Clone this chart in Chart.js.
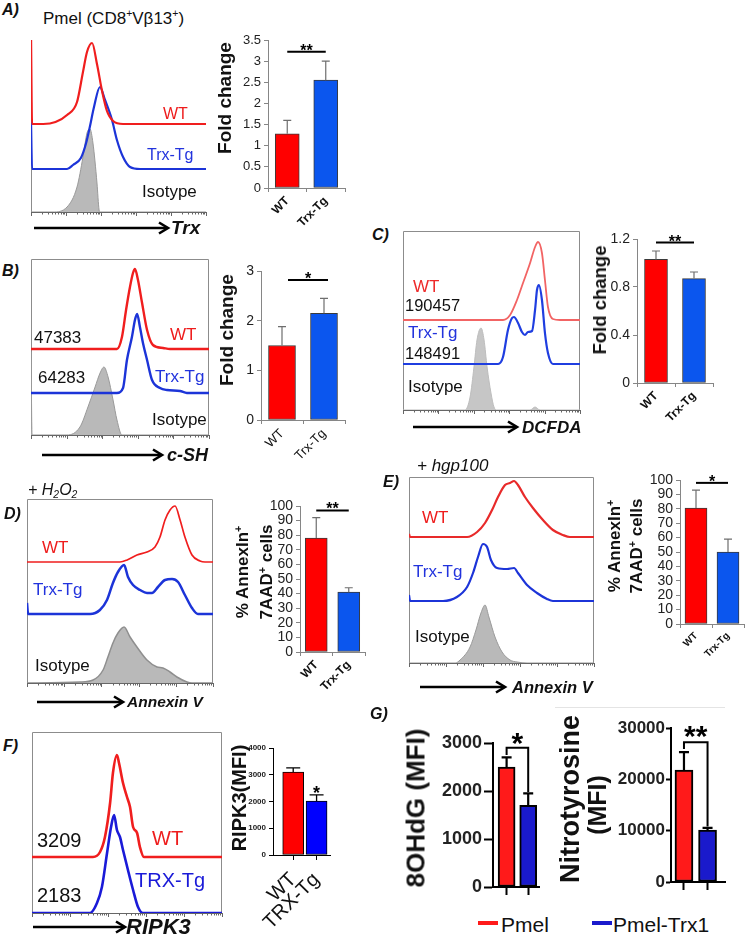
<!DOCTYPE html>
<html><head><meta charset="utf-8"><title>Trx figure</title>
<script src="https://cdn.jsdelivr.net/npm/chart.js@4.4.1/dist/chart.umd.min.js"></script>
<style>
html,body{margin:0;padding:0;background:#fff}
body{width:745px;height:937px;position:relative;overflow:hidden;font-family:"Liberation Sans",Arial,Helvetica,sans-serif;color:#111}
canvas{position:absolute}
.t{position:absolute;white-space:nowrap;line-height:1;transform:translateY(-50%)}
.r{position:absolute;white-space:nowrap;transform:translate(-50%,-50%) rotate(-90deg);font-weight:bold;text-align:center;color:#111}
sup{font-size:62%;vertical-align:0.6em;line-height:0}
sub{font-size:65%;vertical-align:-0.3em;line-height:0}
svg{position:absolute;left:0;top:0}
</style></head><body>
<svg id="arrows" width="745" height="937"></svg>
<script>
// ---------- DATA ----------
// histogram curves: [position along log axis (% of axis), event count (rel.)]
const hA_WT  = [[0,92],[0.6,0],[7,0],[14,2],[20.6,9],[26.3,22],[29.7,52],[32,72],[34.9,81],[37.7,60],[40.6,33],[43.4,13],[46.9,3],[52.6,0],[100,0]];
const hA_Tg  = [[0,49],[0.6,0],[20.6,0],[24,4],[28.5,11],[31.5,26],[33.6,42],[36,62],[39.4,82],[42.3,69],[46.3,49],[49.1,29],[52.6,12],[56.6,2],[62.3,0],[100,0]];
const hA_Iso = [[0,0],[12.6,0],[20.6,5],[26.3,25],[29.7,55],[32,79],[33.7,83],[35.4,69],[37.7,29],[38.9,2],[39.4,0],[100,0]];
const hB_WT  = [[0,0],[48.3,0],[51.1,12],[53.4,39],[55.6,62],[57.3,76],[58.4,80],[60.1,69],[62.4,46],[65.2,19],[68.5,4],[74.2,1],[78.1,0],[100,0]];
const hB_Tg  = [[0,0],[48.3,0],[51.7,5],[53.9,33],[56.7,56],[58.4,73],[59.6,79],[61.2,66],[62.9,50],[65.2,33],[68,13],[72.5,5],[76.4,3],[83.7,2],[87.6,0],[100,0]];
const hB_Iso = [[0,83],[0.6,0],[20.2,0],[27.5,8],[32,28],[36,48],[38.8,62],[41,68],[43.3,58],[46.1,35],[48.3,15],[51.1,0],[100,0]];
const hC_WT  = [[0,0],[56.5,0],[60.5,5],[64.4,20],[67.8,37],[71.8,57],[74.6,73],[76.3,78],[78.5,67],[80.2,40],[81.9,13],[84.7,1],[88.7,0],[100,0]];
const hC_Tg  = [[0,0],[53.7,0],[56.5,7],[59.3,34],[61.6,46],[62.7,47],[65,41],[67.2,32],[68.9,29],[70.6,32],[72.9,33],[74.6,54],[75.7,74],[76.8,79],[78.5,64],[80.2,31],[81.9,11],[84.7,0],[100,0]];
const hC_Iso = [[0,0],[35,0],[37.9,13],[40.1,43],[41.8,70],[44.1,82],[45.8,70],[47.5,43],[49.7,17],[51.4,3],[53.1,0],[71.8,0],[74.6,3],[77.4,0],[100,0]];
const hD_WT  = [[0,0],[50,0],[53.8,2],[59.1,7],[64.5,10],[68.8,15],[71.5,25],[74.2,42],[76.9,52],[79.6,56],[82.3,42],[84.9,25],[88.7,7],[93,1],[95.7,0],[100,0]];
const hD_Tg  = [[0,11],[0.6,0],[33.9,0],[39.2,4],[43,14],[46.2,31],[48.9,42],[52.2,49],[54.3,37],[57,29],[60.8,24],[64.5,21],[67.2,21],[70.4,27],[74.2,34],[78,35],[81.2,32],[84.9,19],[88.7,6],[91.9,0],[100,0]];
const hD_Iso = [[0,0],[28.5,1],[35.5,3],[40.9,13],[43.5,26],[46.2,40],[48.9,50],[52.2,56],[55.4,46],[59.1,36],[64.5,23],[69.9,16],[73.1,15],[76.9,11],[80.6,6],[86,1],[88.7,0],[100,0]];
const hE_WT  = [[0,3],[0.6,0],[31.4,0],[36.8,5],[41.1,14],[44.9,27],[48.1,40],[51.9,52],[54.6,54],[56.8,56],[58.9,52],[62.7,40],[67,29],[72.4,17],[77.8,7],[83.2,2],[87,0],[100,0]];
const hE_Tg  = [[0,6],[0.6,0],[18.4,0],[25.9,4],[31.4,14],[34.6,28],[37.3,44],[40,57],[42.2,54],[44.3,41],[47.6,33],[53,32],[56.8,33],[58.9,28],[63.8,16],[69.2,8],[74.6,2],[77.8,0],[100,0]];
const hE_Iso = [[0,0],[25,0],[27.6,3],[33,16],[36.2,33],[38.9,50],[41.1,58],[43.2,46],[46.5,26],[50.3,11],[54.6,3],[58.4,1],[63.8,0],[100,0]];
const hF_WT  = [[0,0],[32.1,0],[35.8,5],[38.4,20],[41.1,54],[42.6,84],[44.7,102],[45.8,94],[47.9,74],[50,60],[51.6,50],[53.2,30],[55.3,24],[56.8,10],[58.9,0],[100,0]];
const hF_Tg  = [[0,0],[30.5,0],[34.2,10],[36.8,26],[39.5,60],[41.6,86],[43.2,98],[44.7,83],[46.3,76],[47.9,63],[50.5,43],[53.2,23],[55.8,6],[58.4,0],[100,0]];

// bar charts
const catsTrx  = ['WT','Trx-Tg'];
const catsTRX  = ['WT','TRX-Tg'];
const catsPmel = ['Pmel','Pmel-Trx1'];
const barA = [1.28, 2.55],   errA = [0.32, 0.45];
const barB = [1.5, 2.15],    errB = [0.38, 0.30];
const barC = [1.03, 0.87],   errC = [0.07, 0.055];
const barD = [78, 41],       errD = [14, 3];
const barE = [80.5, 50],     errE = [12.5, 9];
const barF = [3100, 2020],   errF = [160, 230];
const barG1 = [2500, 1700],  errG1 = [200, 250];
const barG2 = [21800, 10100],errG2 = [3500, 450];
const ticksA = [0,0.5,1,1.5,2,2.5,3,3.5];
const ticksB = [0,1,2,3];
const ticksC = [0,0.4,0.8,1.2];
const ticksDE = [0,10,20,30,40,50,60,70,80,90,100];
const ticksF = [0,1000,2000,3000,4000];
const ticksG1 = [0,1000,2000,3000];
const ticksG2 = [0,10000,20000,30000];
const mfiWT = ['3209','2183'];
const mfiDCF = ['190457','148491'];
const mfiSH = ['47383','64283'];

// ---------- HELPERS ----------
Chart.defaults.font.family = '"Liberation Sans", Arial, Helvetica, sans-serif';
Chart.defaults.color = '#222';
const RED='#f01e1e', BLUE='#1c34d8', GFILL='#b9b9b9', GLINE='#999999';

function mkCanvas(x,y,w,h){
  const c=document.createElement('canvas');
  c.width=w;c.height=h;
  c.style.left=x+'px';c.style.top=y+'px';c.style.width=w+'px';c.style.height=h+'px';
  document.body.appendChild(c);return c;
}
function T(html,x,cy,style){
  const d=document.createElement('div');d.className='t';d.innerHTML=html;
  d.style.cssText+=`left:${x}px;top:${cy}px;`+style;document.body.appendChild(d);
}
function R(html,cx,cy,style){
  const d=document.createElement('div');d.className='r';d.innerHTML=html;
  d.style.cssText+=`left:${cx}px;top:${cy}px;`+style;document.body.appendChild(d);
}

function histogram(o){
  const pad=8, W=o.R-o.L, H=o.B-o.T;
  const cv=mkCanvas(o.L-pad,o.T-pad,W+2*pad,H+2*pad);
  const frame={id:'frame',beforeDatasetsDraw(ch){
    const {left,top,right,bottom}=ch.chartArea, ctx=ch.ctx, xs=ch.scales.x;
    ctx.save();ctx.strokeStyle='#8c8c8c';ctx.lineWidth=1;ctx.beginPath();
    if(o.box){ctx.moveTo(left+0.5,bottom);ctx.lineTo(left+0.5,top+0.5);ctx.lineTo(right-0.5,top+0.5);ctx.lineTo(right-0.5,bottom);}
    else {ctx.moveTo(left+0.5,bottom);ctx.lineTo(left+0.5,top);}
    ctx.stroke();
    ctx.strokeStyle='#666';ctx.beginPath();ctx.moveTo(left,bottom+0.5);ctx.lineTo(right,bottom+0.5);
    const nd=5;
    for(let d=0;d<=nd;d++){for(let k=1;k<=9;k++){
      if(d===nd&&k>1)break;
      const px=Math.round(xs.getPixelForValue((d+Math.log10(k))/nd*100))+0.5;
      ctx.moveTo(px,bottom);ctx.lineTo(px,bottom+(k===1?4:2.5));
    }}
    ctx.stroke();ctx.restore();
  }};
  new Chart(cv,{type:'line',
    data:{datasets:o.tracks.map(t=>({
      data:t.pts.map(p=>({x:p[0],y:t.base+p[1]})),
      borderColor:t.color,borderWidth:t.lw,
      backgroundColor:t.fill||'transparent',fill:t.fill?{value:t.base}:false,
      pointRadius:0,cubicInterpolationMode:'monotone',borderJoinStyle:'round'}))},
    options:{responsive:false,animation:false,devicePixelRatio:1,events:[],
      layout:{padding:pad},plugins:{legend:{display:false},tooltip:{enabled:false}},
      scales:{x:{type:'linear',min:0,max:100,display:false},y:{min:0,max:H,display:false}}},
    plugins:[frame]});
}

function barChart(o){
  const pad=Object.assign({l:2,t:14,r:6,b:2},o.pad||{});
  const cx=o.L-o.yW-pad.l, cy=o.T-pad.t, cw=o.R+pad.r-cx, chh=o.B+o.xH+pad.b-cy;
  const cv=mkCanvas(cx,cy,cw,chh);
  const lin=o.xmin!==undefined;
  const deco={id:'deco',afterDatasetsDraw(ch){
    const ctx=ch.ctx, ys=ch.scales.y, meta=ch.getDatasetMeta(0);
    ctx.save();ctx.strokeStyle=o.errColor;ctx.lineWidth=o.errW;
    o.errs.forEach((e,i)=>{
      const x=meta.data[i].x, y0=ys.getPixelForValue(o.vals[i]), y1=ys.getPixelForValue(o.vals[i]+e);
      ctx.beginPath();ctx.moveTo(x,y0);ctx.lineTo(x,y1);ctx.moveTo(x-o.cap/2,y1);ctx.lineTo(x+o.cap/2,y1);ctx.stroke();
    });
    const s=o.sig;
    if(s){
      ctx.strokeStyle='#000';ctx.fillStyle='#000';ctx.lineWidth=s.lw||2;ctx.font=s.font;ctx.textAlign='center';ctx.textBaseline='alphabetic';
      const x0=meta.data[0].x+(s.dx0||0), x1=meta.data[1].x+(s.dx1||0);
      if(s.type==='line'){
        const y=ys.getPixelForValue(s.y);
        ctx.beginPath();ctx.moveTo(x0,y);ctx.lineTo(x1,y);ctx.stroke();
        ctx.fillText(s.text,(x0+x1)/2,y+s.tOff);
      } else if(s.type==='bracket'){
        const y=ys.getPixelForValue(s.y);
        ctx.beginPath();ctx.moveTo(x0,ys.getPixelForValue(s.l));ctx.lineTo(x0,y);ctx.lineTo(x1,y);ctx.lineTo(x1,ys.getPixelForValue(s.r));ctx.stroke();
        ctx.fillText(s.text,(x0+x1)/2,y+s.tOff);
      } else if(s.type==='star'){
        const i=s.i, x=meta.data[i].x, y=ys.getPixelForValue(o.vals[i]+o.errs[i]);
        ctx.fillText(s.text,x,y+s.tOff);
      }
    }
    ctx.restore();
  }};
  const xScale = lin ? {
      type:'linear',min:o.xmin,max:o.xmax,offset:false,
      afterBuildTicks(sc){sc.ticks=o.cats.map((c,i)=>({value:i}));},
      ticks:{display:o.xLabels!==false,callback:v=>o.cats[v]??'',font:o.xFont,color:'#111',minRotation:o.rot,maxRotation:o.rot,autoSkip:false,padding:o.xPad||2},
      grid:{drawOnChartArea:false,offset:false,color:o.axColor,tickLength:o.xTick||5,tickWidth:o.axW},
      border:{color:o.axColor,width:o.axW},
      afterFit(sc){sc.height=o.xH;}
    } : {
      ticks:{font:o.xFont,color:'#111',minRotation:o.rot,maxRotation:o.rot,autoSkip:false,padding:o.xPad||2},
      grid:{drawOnChartArea:false,offset:true,color:o.axColor,tickLength:4,tickWidth:1},
      border:{color:o.axColor,width:o.axW},
      afterFit(sc){sc.height=o.xH;}
    };
  new Chart(cv,{type:'bar',
    data:{labels:lin?undefined:o.cats,datasets:[{
      data:lin?o.vals.map((v,i)=>({x:i,y:v})):o.vals,
      backgroundColor:o.colors,borderColor:o.bc,borderWidth:o.bw,borderSkipped:false,barThickness:o.thick}]},
    options:{responsive:false,animation:false,devicePixelRatio:1,events:[],
      layout:{padding:{left:pad.l,top:pad.t,right:pad.r,bottom:pad.b}},
      plugins:{legend:{display:false},tooltip:{enabled:false}},
      scales:{x:xScale,
        y:{min:o.yTicks[0],max:o.yTicks[o.yTicks.length-1],
          afterBuildTicks(sc){sc.ticks=o.yTicks.map(v=>({value:v}));},
          ticks:{font:o.yFont,color:'#222',padding:o.yPad||3,autoSkip:false,callback:v=>String(v)},
          grid:{drawOnChartArea:false,color:o.axColor,tickLength:o.yTick||4,tickWidth:o.axW},
          border:{color:o.axColor,width:o.axW},
          afterFit(sc){sc.width=o.yW;}}}},
    plugins:[deco]});
}

// ---------- HISTOGRAMS ----------
histogram({L:31,T:40,R:206,B:212,box:false,tracks:[
  {pts:hA_WT,base:88,color:RED,lw:2.2},
  {pts:hA_Tg,base:43,color:BLUE,lw:2.2},
  {pts:hA_Iso,base:0,color:GLINE,lw:1,fill:GFILL}]});
histogram({L:31,T:259,R:209,B:435,box:true,tracks:[
  {pts:hB_WT,base:86,color:RED,lw:2.4},
  {pts:hB_Tg,base:42,color:BLUE,lw:2.4},
  {pts:hB_Iso,base:0,color:GLINE,lw:1,fill:GFILL}]});
histogram({L:403,T:231,R:580,B:410,box:true,tracks:[
  {pts:hC_WT,base:90,color:'#f26464',lw:1.8},
  {pts:hC_Tg,base:46,color:'#1f3ee0',lw:2.2},
  {pts:hC_Iso,base:0,color:'#bdbdbd',lw:1,fill:'#c6c6c6'}]});
histogram({L:27,T:499,R:213,B:683,box:true,tracks:[
  {pts:hD_WT,base:121,color:RED,lw:1.7},
  {pts:hD_Tg,base:69,color:BLUE,lw:2.5},
  {pts:hD_Iso,base:0,color:'#8f8f8f',lw:1.5,fill:GFILL}]});
histogram({L:409,T:477,R:594,B:663,box:true,tracks:[
  {pts:hE_WT,base:126,color:'#e82a2a',lw:2.2},
  {pts:hE_Tg,base:62,color:BLUE,lw:2.2},
  {pts:hE_Iso,base:0,color:'#9a9a9a',lw:1,fill:GFILL}]});
histogram({L:32,T:732,R:222,B:913,box:true,tracks:[
  {pts:hF_WT,base:56,color:RED,lw:2.6},
  {pts:hF_Tg,base:0,color:'#1a1ad8',lw:2.6}]});

// ---------- BAR CHARTS ----------
const XL={colors:['#ff0000','#0b56ee'],bc:'#3a3a3a',bw:1,errColor:'#6e6e6e',errW:1.2,cap:8,axColor:'#868686',axW:1,yW:36,xH:44,rot:45};
barChart(Object.assign({},XL,{L:268,T:40,R:345,B:188,cats:catsTrx,vals:barA,errs:errA,yTicks:ticksA,thick:24,
  yFont:{size:13},xFont:{size:12,weight:'bold'},sig:{type:'line',y:3.22,text:'**',font:'bold 16px "Liberation Sans", Arial',tOff:4}}));
barChart(Object.assign({},XL,{L:261,T:271,R:345,B:420,cats:catsTrx,vals:barB,errs:errB,yTicks:ticksB,thick:27,
  yFont:{size:14},xFont:{size:13},sig:{type:'line',y:2.82,text:'*',font:'bold 16px "Liberation Sans", Arial',tOff:4,dx0:6,dx1:4}}));
barChart(Object.assign({},XL,{L:637,T:239,R:713,B:383,cats:catsTrx,vals:barC,errs:errC,yTicks:ticksC,thick:23,
  yFont:{size:14},xFont:{size:12,weight:'bold'},sig:{type:'line',y:1.17,text:'**',font:'bold 16px "Liberation Sans", Arial',tOff:4}}));
barChart(Object.assign({},XL,{L:300,T:506,R:365,B:652,cats:catsTrx,vals:barD,errs:errD,yTicks:ticksDE,thick:22,
  yFont:{size:14},xFont:{size:12,weight:'bold'},sig:{type:'line',y:97,text:'**',font:'bold 16px "Liberation Sans", Arial',tOff:4}}));
barChart(Object.assign({},XL,{L:680,T:480,R:744,B:624,cats:catsTrx,vals:barE,errs:errE,yTicks:ticksDE,thick:22,pad:{r:1},
  yFont:{size:14},xFont:{size:10,weight:'bold'},sig:{type:'line',y:98,text:'*',font:'bold 16px "Liberation Sans", Arial',tOff:4}}));
barChart({L:273,T:748,R:337,B:855,cats:catsTRX,vals:barF,errs:errF,yTicks:ticksF,thick:21,xmin:-0.865,xmax:1.6,
  colors:['#ff0000','#0000ff'],bc:'#000',bw:1,errColor:'#000',errW:1.3,cap:14,axColor:'#000',axW:1,yW:30,xH:80,rot:45,
  yFont:{size:8,weight:'bold'},xFont:{size:20},yTick:4,xTick:5,xPad:8,
  sig:{type:'star',i:1,text:'*',font:'bold 18px "Liberation Sans", Arial',tOff:4}});
barChart({L:493,T:743,R:539,B:887,cats:catsPmel,vals:barG1,errs:errG1,yTicks:ticksG1,thick:17,xmin:-0.63,xmax:1.5,xLabels:false,
  colors:['#ff1a1a','#1a1acc'],bc:'#000',bw:2,errColor:'#000',errW:2.2,cap:10,axColor:'#000',axW:2,yW:60,xH:14,rot:0,
  yFont:{size:18,weight:'bold'},xFont:{size:10},yTick:9,yPad:2,xTick:8,
  sig:{type:'bracket',y:2900,l:2750,r:1980,text:'*',font:'bold 30px "Liberation Sans", Arial',tOff:5,lw:2}});
barChart({L:671,T:728,R:725,B:882,cats:catsPmel,vals:barG2,errs:errG2,yTicks:ticksG2,thick:18,xmin:-0.55,xmax:1.74,xLabels:false,
  colors:['#ff1a1a','#1a1acc'],bc:'#000',bw:2,errColor:'#000',errW:2.2,cap:10,axColor:'#000',axW:2,yW:60,xH:14,rot:0,
  yFont:{size:17,weight:'bold'},xFont:{size:10},yTick:5,yPad:1,xTick:8,
  sig:{type:'bracket',y:27200,l:25900,r:10800,text:'**',font:'bold 30px "Liberation Sans", Arial',tOff:4,lw:2}});

// ---------- TEXT ----------
const BI='font-weight:bold;font-style:italic;';
const RC='color:#ee1c1c;', BC='color:#2233dd;';
T('A)',2,10,BI+'font-size:16px');
T('Pmel (CD8<sup>+</sup>Vβ13<sup>+</sup>)',43,18,'font-size:17px');
T('WT',163,114,RC+'font-size:16px');
T('Trx-Tg',147,155,BC+'font-size:16px');
T('Isotype',142,191,'font-size:17px');
T('Trx',171,227,BI+'font-size:19px');
R('Fold change',225,98,'font-size:19px');

T('B)',2,271,BI+'font-size:16px');
T(mfiSH[0],34,337,'font-size:17px');
T(mfiSH[1],38,377,'font-size:17px');
T('WT',170,334,RC+'font-size:17px');
T('Trx-Tg',155,376,BC+'font-size:17px');
T('Isotype',152,419,'font-size:17px');
T('c-SH',167,455,BI+'font-size:18px');
R('Fold change',227,330,'font-size:19px');

T('C)',372,235,BI+'font-size:16px');
T('WT',413,286,'color:#ee2a2a;font-size:17px');
T(mfiDCF[0],405,305,'font-size:16.5px');
T('Trx-Tg',408,332,BC+'font-size:17px');
T(mfiDCF[1],405,353,'font-size:16.5px');
T('Isotype',408,386,'font-size:17px');
T('DCFDA',522,427,BI+'font-size:17px');
R('Fold change',600,300,'font-size:18.5px');

T('+ H<sub>2</sub>O<sub>2</sub>',28,490,'font-style:italic;font-size:16px');
T('D)',4,514,BI+'font-size:16px');
T('WT',42,547,RC+'font-size:17px');
T('Trx-Tg',33,589,BC+'font-size:17px');
T('Isotype',35,665,'font-size:17px');
T('Annexin V',127,702,BI+'font-size:15.5px');
R('% AnnexIn<sup>+</sup><br>7AAD<sup>+</sup> cells',255,572,'font-size:17px;line-height:24px');

T('+ hgp100',417,465,'font-style:italic;font-size:17px');
T('E)',383,482,BI+'font-size:16px');
T('WT',422,517,RC+'font-size:17px');
T('Trx-Tg',413,571,BC+'font-size:17px');
T('Isotype',415,636,'font-size:17px');
T('Annexin V',512,687,BI+'font-size:16.5px');
R('% AnnexIn<sup>+</sup><br>7AAD<sup>+</sup> cells',626,546,'font-size:17px;line-height:22px');

T('F)',3,746,BI+'font-size:16px');
T(mfiWT[0],37,840,'font-size:20px');
T('WT',152,838,RC+'font-size:20px');
T('TRX-Tg',135,880,'color:#1a1ad8;font-size:20px');
T(mfiWT[1],37,895,'font-size:20px');
T('RIPK3',126,927,BI+'font-size:22px');
R('RIPK3(MFI)',239,798,'font-size:20px');

T('G)',370,714,BI+'font-size:16px');
R('8OHdG (MFI)',416,808,'font-size:26px');
R('Nitrotyrosine',570,799,'font-size:27px');
R('(MFI)',597,805,'font-size:25px');

// legend G
function legLine(x,y,w,c){const d=document.createElement('div');d.style.cssText=`position:absolute;left:${x}px;top:${y}px;width:${w}px;height:4px;background:${c}`;document.body.appendChild(d);}
legLine(478,921,20,'#ff1a1a');T(catsPmel[0],501,924,'font-size:21px');
legLine(592,921,20,'#1a1acc');T(catsPmel[1],613,924,'font-size:21px');

// faint frame G2
(function(){const d=document.createElement('div');d.style.cssText='position:absolute;left:555px;top:707px;width:170px;height:1px;background:#e4e4e4';document.body.appendChild(d);})();

// arrows
const arrows=[[34,168,228],[42,162,455],[413,517,427],[37,123,702],[420,505,687],[33,125,927]];
const svg=document.getElementById('arrows');
arrows.forEach(([x1,x2,y])=>{
  svg.insertAdjacentHTML('beforeend',`<line x1="${x1}" y1="${y}" x2="${x2-1}" y2="${y}" stroke="#000" stroke-width="2.6"/>`+
  `<polyline points="${x2-9},${y-5.5} ${x2},${y} ${x2-9},${y+5.5}" fill="none" stroke="#000" stroke-width="2.6"/>`);
});
</script></body></html>
